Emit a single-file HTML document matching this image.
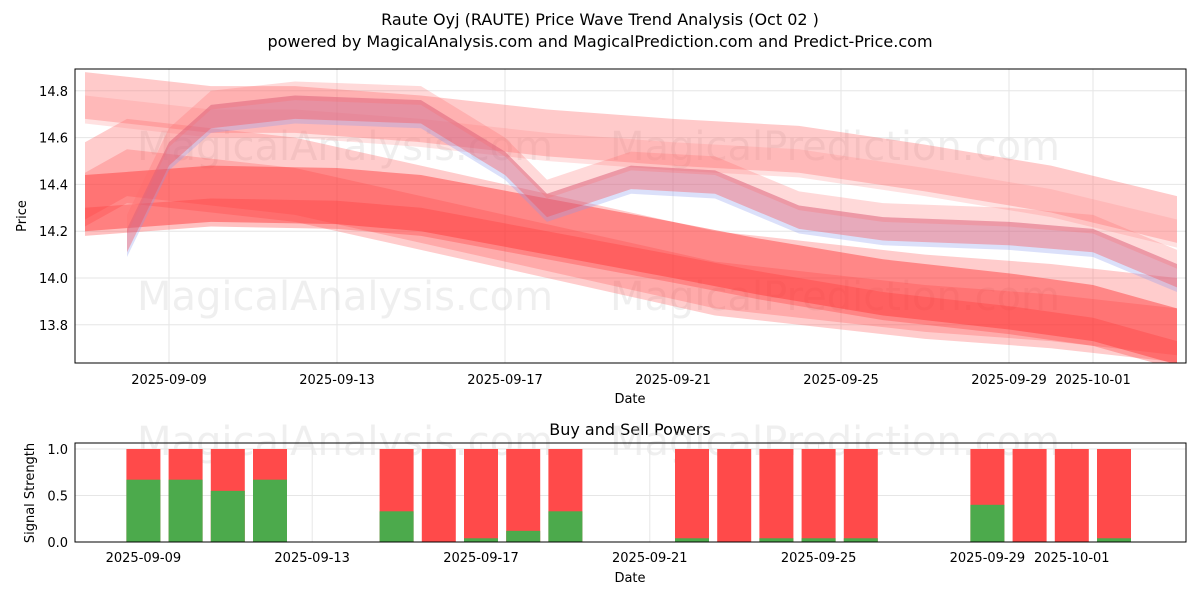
<!DOCTYPE html>
<html><head><meta charset="utf-8"><style>
body{margin:0;background:#fff;font-family:"Liberation Sans","DejaVu Sans",sans-serif}
svg text{font-family:"DejaVu Sans","Liberation Sans",sans-serif;fill:#000}
</style></head><body>
<svg id="c" width="1200" height="600">
<text x="600" y="25" font-size="16" text-anchor="middle">Raute Oyj (RAUTE) Price Wave Trend Analysis (Oct 02 )</text>
<text x="600" y="47" font-size="16" text-anchor="middle">powered by MagicalAnalysis.com and MagicalPrediction.com and Predict-Price.com</text>
<text x="630" y="435" font-size="16" text-anchor="middle">Buy and Sell Powers</text>
<g id="topg"></g><g id="botg"></g>
</svg>
<script>
const tickDates=["2025-09-09","2025-09-13","2025-09-17","2025-09-21","2025-09-25","2025-09-29","2025-10-01"];
const tickDays=[2,6,10,14,18,22,24];
const yTicks=[13.8,14.0,14.2,14.4,14.6,14.8];
const band1Days=[0,3,5,8,11,14,17,20,23,26];
const band1Mid=[14.78,14.72,14.72,14.68,14.62,14.58,14.55,14.47,14.38,14.25];
const band2Days=[1,2,3,5,8,10,11,13,15,17,19,22,24,26];
const band2Mid=[14.15,14.52,14.68,14.72,14.7,14.48,14.3,14.42,14.4,14.25,14.2,14.18,14.15,14.0];
const band3Days=[0,3,6,8,11,14,16,19,22,24,26];
const band3Mid=[14.32,14.36,14.35,14.32,14.22,14.12,14.05,13.96,13.9,13.85,13.75];
const band4Days=[0,1,5,10,15,20,23,26];
const band4Mid=[14.4,14.5,14.42,14.22,14.02,13.92,13.88,13.82];
const barDays=[2,3,4,5,8,9,10,11,12,15,16,17,18,19,22,23,24,25];
const buyPower=[0.67,0.67,0.55,0.67,0.33,0,0.04,0.12,0.33,0.04,0,0.04,0.04,0.04,0.4,0,0,0.04];
const NS="http://www.w3.org/2000/svg";
const X0=75,X1=1186;
const xs=d=>85+42*d;
const xb=d=>59+42.2*d;
const ys=v=>278-(v-14.0)*234;
const yb=v=>542-v*93;
function el(t,a,p){const e=document.createElementNS(NS,t);for(const k in a)e.setAttribute(k,a[k]);p.appendChild(e);return e;}
const topG=document.getElementById('topg'),botG=document.getElementById('botg');
const defs=el('defs',{},topG);const cp=el('clipPath',{id:'cp'},defs);el('rect',{x:X0,y:69,width:X1-X0,height:294},cp);
tickDays.forEach((d,i)=>{
 const gl=el('line',{x1:xs(d),x2:xs(d),y1:69,y2:363,stroke:'#e6e6e6'},topG);
 
 
 el('line',{x1:xb(d),x2:xb(d),y1:443,y2:542,stroke:'#e6e6e6'},botG);
 const t=el('text',{x:xs(d),y:384,'font-size':13,'text-anchor':'middle'},topG);t.textContent=tickDates[i];
 
 
 const t2=el('text',{x:xb(d),y:562,'font-size':13,'text-anchor':'middle'},botG);t2.textContent=tickDates[i];
 
 
});
yTicks.forEach(v=>{
 el('line',{x1:X0,x2:X1,y1:ys(v),y2:ys(v),stroke:'#e6e6e6'},topG);
 const t=el('text',{x:68,y:ys(v)+5,'font-size':13,'text-anchor':'end'},topG);t.textContent=v.toFixed(1);
 
 
});
[0,0.5,1].forEach(v=>{
 el('line',{x1:X0,x2:X1,y1:yb(v),y2:yb(v),stroke:'#e6e6e6'},botG);
 const t=el('text',{x:68,y:yb(v)+5,'font-size':13,'text-anchor':'end'},botG);t.textContent=v.toFixed(1);
 
 
});
[[345,160],[835,160],[345,310],[835,310],[345,455],[835,455]].forEach(p=>{
 const t=el('text',{x:p[0],y:p[1],'font-size':40,'text-anchor':'middle',style:'fill:#ccc;opacity:0.3'},topG);
 t.textContent=p[0]<600?'MagicalAnalysis.com':'MagicalPrediction.com';
 
 
});
const g=el('g',{'clip-path':'url(#cp)'},topG);
function band(days,mid,hw,color,op,name,shift){
 let up=[],dn=[];
 days.forEach((d,i)=>{up.push(xs(d)+','+ys(mid[i]+hw+shift));dn.unshift(xs(d)+','+ys(mid[i]-hw+shift));});
 const p=el('polygon',{points:up.concat(dn).join(' '),fill:color,'fill-opacity':op},g);
 
 
}
band(band4Days,band4Mid,0.18,'#ff5555',0.3,'wave-band-4',0);
band(band4Days,band4Mid,0.1,'#ff4444',0.25,'wave-band-4-inner',-0.05);
band(band1Days,band1Mid,0.1,'#ff6666',0.35,'wave-band-1',0);
band(band1Days,band1Mid,0.06,'#ff8888',0.25,'wave-band-1b',-0.06);
band(band3Days,band3Mid,0.12,'#ff3333',0.45,'wave-band-3',0);
band(band3Days,band3Mid,0.06,'#ff3333',0.3,'wave-band-3b',-0.08);
band(band2Days,band2Mid,0.06,'#8899ee',0.3,'wave-band-2-blue',0);
band(band2Days,band2Mid,0.05,'#ff4444',0.35,'wave-band-2',0.01);
band(band2Days,band2Mid,0.04,'#ff6666',0.25,'wave-band-2b',0.08);
const f1=el('rect',{x:X0,y:69,width:X1-X0,height:294,fill:'none',stroke:'#000'},topG);


barDays.forEach((d,i)=>{
 const w=34,x=xb(d)-w/2;
 const r=el('rect',{x:x,y:yb(1),width:w,height:yb(0)-yb(1),fill:'#ff4a4a'},botG);
 
 
 const b=el('rect',{x:x,y:yb(buyPower[i]),width:w,height:yb(0)-yb(buyPower[i]),fill:'#4caa4c'},botG);
 
 
});
const f2=el('rect',{x:X0,y:443,width:X1-X0,height:99,fill:'none',stroke:'#000'},botG);


const lab=(x,y,s,r,n)=>{const t=el('text',{x:x,y:y,'font-size':13,'text-anchor':'middle',transform:r?`rotate(-90 ${x} ${y})`:''},topG);t.textContent=s;
 
 };
lab(630,403,'Date',false,'x-axis-title');
lab(26,216,'Price',true,'y-axis-title');
lab(630,582,'Date',false,'x-axis-title-lower');
lab(34,493,'Signal Strength',true,'y-axis-title-lower');
</script>
</body></html>
